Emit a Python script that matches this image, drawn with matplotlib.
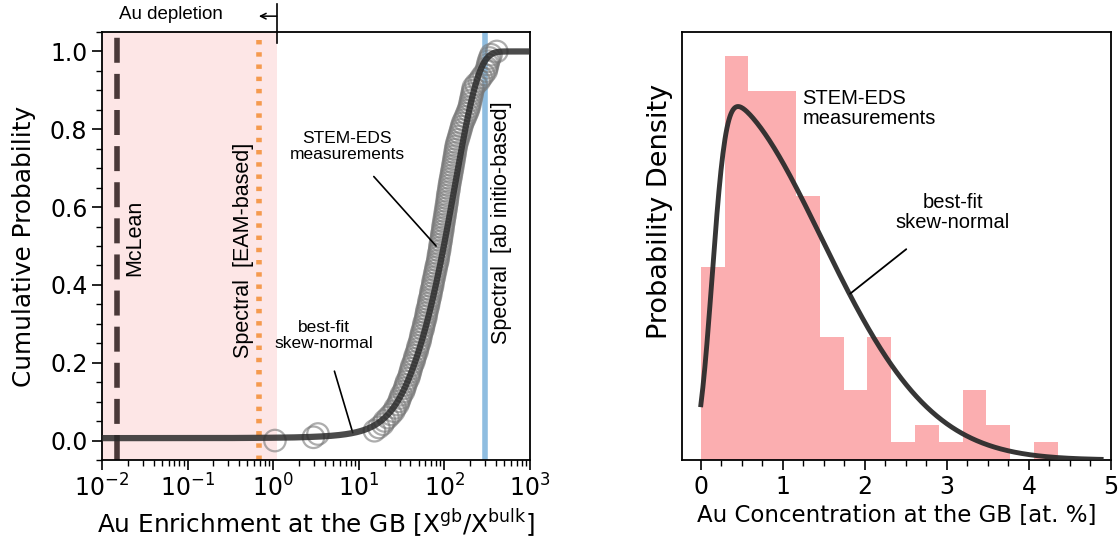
import math
import numpy as np
import matplotlib
matplotlib.use("Agg")
import matplotlib.pyplot as plt
from matplotlib.ticker import MultipleLocator, NullLocator

conc = [0.011, 0.031, 0.035, 0.16, 0.18, 0.20, 0.21, 0.23, 0.25, 0.27, 0.28,
        0.30, 0.31, 0.32, 0.33, 0.35, 0.36, 0.37, 0.38, 0.40, 0.41, 0.42, 0.43,
        0.44, 0.46, 0.47, 0.48, 0.50, 0.51, 0.52, 0.54, 0.55, 0.56, 0.57,
        0.59, 0.60, 0.61, 0.63, 0.64, 0.65, 0.66, 0.68, 0.69, 0.70, 0.72, 0.73,
        0.74, 0.76, 0.77, 0.78, 0.80, 0.81, 0.83, 0.84, 0.86,
        0.88, 0.89, 0.90, 0.92, 0.93, 0.94, 0.96, 0.97, 0.98, 1.00, 1.01, 1.02,
        1.04, 1.05, 1.07, 1.08, 1.10, 1.11, 1.13, 1.14, 1.15,
        1.17, 1.19, 1.20, 1.22, 1.24, 1.26, 1.28, 1.30, 1.32, 1.34, 1.36, 1.38,
        1.40, 1.42, 1.44,
        1.47, 1.51, 1.55, 1.59, 1.63, 1.67, 1.71,
        1.78, 1.85, 1.92, 1.99,
        2.05, 2.09, 2.13, 2.17, 2.21, 2.25, 2.29,
        2.45, 2.68, 2.83, 3.02, 3.23, 3.30, 3.37, 3.44, 3.55, 3.68, 4.30]
x_bulk = 0.0105          # bulk Au concentration, enrichment = conc / x_bulk
hist_max = 4.35
n_bins = 15

# best-fit skew-normal (loc, scale, shape)
sn_loc, sn_scale, sn_shape = 0.137, 1.33, 10.0

# reference enrichment values
mclean = 0.0148
spectral_eam = 0.68
spectral_abinitio = 300
depletion = 1.1

erf = np.vectorize(math.erf)


def sn_pdf(x):
    z = (np.asarray(x) - sn_loc) / sn_scale
    phi = np.exp(-0.5 * z ** 2) / np.sqrt(2 * np.pi)
    Phi = 0.5 * (1 + erf(sn_shape * z / np.sqrt(2)))
    return 2 / sn_scale * phi * Phi


grid = np.linspace(sn_loc - 8 * sn_scale, 12, 40001)
pdf_grid = sn_pdf(grid)
cdf_grid = np.concatenate([[0], np.cumsum((pdf_grid[1:] + pdf_grid[:-1]) / 2 * np.diff(grid))])

conc = np.array(conc)
enrich = np.sort(conc / x_bulk)
ecdf = np.arange(len(enrich)) / (len(enrich) - 1)

fig = plt.figure(figsize=(11.19, 5.38), dpi=100)
ax1 = fig.add_axes([102 / 1119, 78 / 538, 428 / 1119, 428 / 538])
ax2 = fig.add_axes([682 / 1119, 78 / 538, 429 / 1119, 428 / 538])

ann = ["Liberation Sans", "DejaVu Sans"]

# ---- left: cumulative probability
ax1.set_xscale("log")
ax1.set_xlim(1e-2, 1e3)
ax1.set_ylim(-0.05, 1.05)
ax1.axvspan(1e-2, depletion, color="#fde6e6", zorder=0, lw=0)
ax1.axvline(mclean, color="#4a3838", lw=4, ls=(0, (4.5, 2)), zorder=2)
ax1.axvline(spectral_eam, color="#f59a4e", lw=4, ls=(0, (0.8, 1.4)), zorder=2)
ax1.axvline(spectral_abinitio, color="#8fbde0", lw=4, zorder=2)

ax1.scatter(enrich, ecdf, s=240, facecolors="none", edgecolors="#777777",
            linewidths=1.6, alpha=0.6, zorder=3)
e_line = np.logspace(-2, 3, 600)
ax1.plot(e_line, np.interp(e_line * x_bulk, grid, cdf_grid), color="#2b2b2b",
         lw=4.5, alpha=0.85, zorder=4)

ax1.text(mclean * 1.22, 0.52, "McLean", rotation=90, ha="left", va="center",
         fontsize=15.5, family=ann)
ax1.text(spectral_eam * 0.88, 0.49, "Spectral  [EAM-based]", rotation=90,
         ha="right", va="center", fontsize=15.5, family=ann)
ax1.text(spectral_abinitio * 1.17, 0.56, "Spectral  [ab initio-based]", rotation=90,
         ha="left", va="center", fontsize=15.5, family=ann)

ax1.annotate("STEM-EDS\nmeasurements", xy=(80, 0.5), xytext=(7.3, 0.755),
             ha="center", va="center", fontsize=12.5, family=ann,
             linespacing=1.1,
             arrowprops=dict(arrowstyle="-", color="black", lw=1.2,
                             shrinkA=11, shrinkB=0))
ax1.annotate("best-fit\nskew-normal", xy=(8.5, 0.02), xytext=(3.9, 0.27),
             ha="center", va="center", fontsize=12.5, family=ann,
             linespacing=1.1,
             arrowprops=dict(arrowstyle="-", color="black", lw=1.2,
                             shrinkA=13, shrinkB=0))

tr = ax1.get_xaxis_transform()
ax1.plot([depletion, depletion], [0.975, 1.065], color="black", lw=1.2,
         transform=tr, clip_on=False)
ax1.annotate("", xy=(0.68, 1.037), xytext=(depletion, 1.037), xycoords=tr,
             textcoords=tr, arrowprops=dict(arrowstyle="->", color="black",
                                            lw=1.1, shrinkA=0, shrinkB=0))
ax1.text(0.064, 1.04, "Au depletion", transform=tr, ha="center", va="center",
         fontsize=13.5, family=ann)

ax1.yaxis.set_major_locator(MultipleLocator(0.2))
ax1.yaxis.set_minor_locator(MultipleLocator(0.05))
ax1.set_ylabel("Cumulative Probability", fontsize=17.8)
ax1.set_xlabel(r"Au Enrichment at the GB [X$^{\rm gb}$/X$^{\rm bulk}$]", fontsize=17.8)
ax1.yaxis.set_label_coords(-0.154, 0.5)

# ---- right: probability density
edges = np.linspace(0, hist_max, n_bins + 1)
ax2.hist(conc, bins=edges, density=True, color="#fbaeb0", zorder=1)
c_line = np.linspace(0, 4.88, 400)
ax2.plot(c_line, sn_pdf(c_line), color="#2b2b2b", lw=3.5, alpha=0.95, zorder=3)
ax2.set_xlim(-0.23, 5.0)
ax2.set_ylim(0, 0.70)
ax2.yaxis.set_major_locator(NullLocator())
ax2.xaxis.set_major_locator(MultipleLocator(1))
ax2.xaxis.set_minor_locator(MultipleLocator(0.25))
ax2.text(1.24, 0.575, "STEM-EDS\nmeasurements", ha="left", va="center",
         fontsize=14.5, family=ann, linespacing=1.05)
ax2.annotate("best-fit\nskew-normal", xy=(1.82, 0.272), xytext=(3.07, 0.405),
             ha="center", va="center", fontsize=14.5, family=ann, linespacing=1.05,
             arrowprops=dict(arrowstyle="-", color="black", lw=1.3,
                             shrinkA=17, shrinkB=0))
ax2.set_ylabel("Probability Density", fontsize=19.5)
ax2.set_xlabel("Au Concentration at the GB [at. %]", fontsize=16.5)
ax2.yaxis.set_label_coords(-0.02, 0.58)

for ax in (ax1, ax2):
    for s in ax.spines.values():
        s.set_linewidth(1.3)
    ax.tick_params(which="major", length=7, width=1.2, labelsize=17)
    ax.tick_params(which="minor", length=4, width=1.0)

fig.savefig("out.png", dpi=100)
